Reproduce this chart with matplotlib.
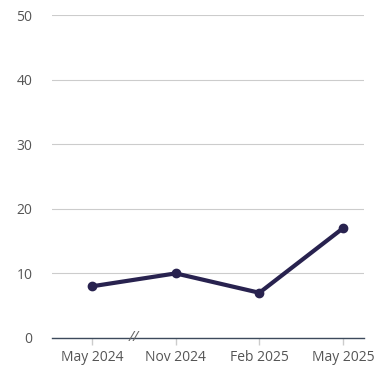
import matplotlib
matplotlib.use("Agg")
import matplotlib.pyplot as plt
import matplotlib.transforms as mtransforms

# data
months = ["May 2024", "Nov 2024", "Feb 2025", "May 2025"]
values = [8, 10, 7, 17]
y_ticks = [0, 10, 20, 30, 40, 50]

plt.rcParams['font.family'] = ['Open Sans', 'DejaVu Sans']

fig = plt.figure(figsize=(3.9, 3.81), dpi=100)
ax = fig.add_axes([0.1333, 0.1129, 0.80, 0.8477])

x = list(range(len(months)))
ax.plot(x, values, color='#28224f', linewidth=3, marker='o', markersize=6,
        solid_capstyle='round', solid_joinstyle='round', zorder=3)

ax.set_xlim(-0.478, 3.25)
ax.set_ylim(0, 50)
ax.set_xticks(x)
ax.set_xticklabels(months)
ax.set_yticks(y_ticks)

ax.grid(axis='y', color='#cccccc', linewidth=0.8)
ax.set_axisbelow(True)
for s in ['top', 'right', 'left']:
    ax.spines[s].set_visible(False)
ax.spines['bottom'].set_color('#3d4a5c')
ax.spines['bottom'].set_linewidth(1)
ax.spines['bottom'].set_zorder(2)

ax.tick_params(axis='x', colors='#cccccc', length=5, width=1, labelcolor='#555555', labelsize=10, pad=4)
ax.tick_params(axis='y', length=0, labelcolor='#555555', labelsize=10, pad=14)

# axis break mark between first and second month
trans = mtransforms.blended_transform_factory(ax.transData, ax.transAxes)
ax.text(0.5, 0, "//", transform=trans, ha='center', va='center',
        color='#666666', fontsize=10.5, style='italic', clip_on=False)

fig.savefig("out.png", dpi=100)
